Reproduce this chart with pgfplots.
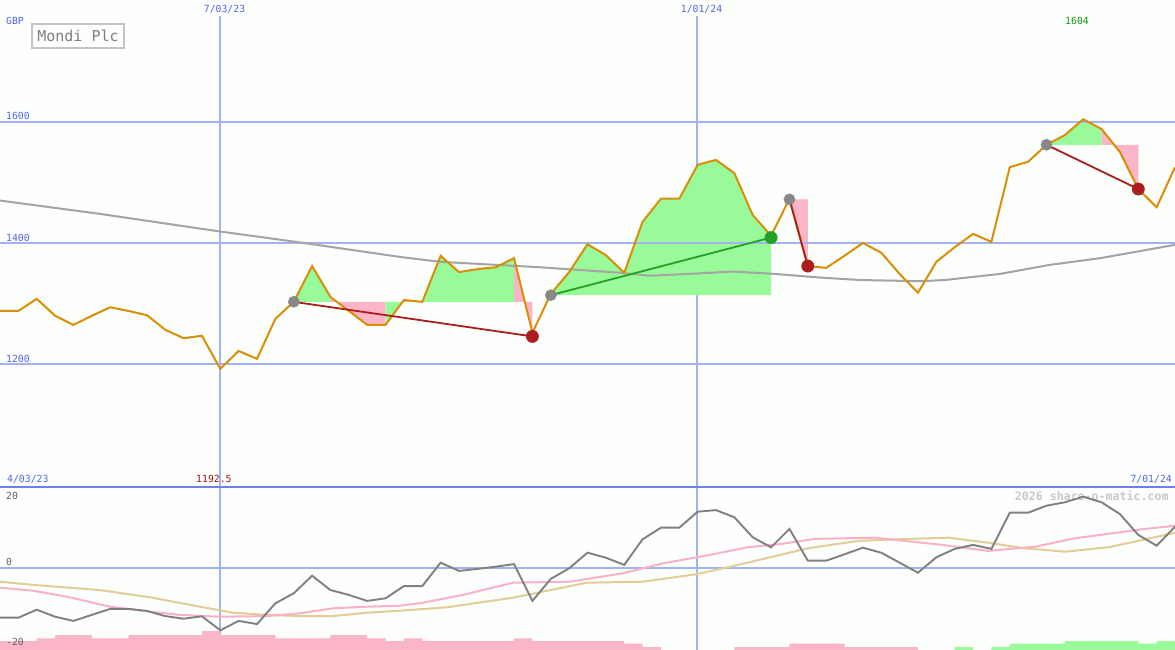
\documentclass[border=0pt]{standalone}
\usepackage{pgfplots}
\pgfplotsset{compat=1.18}
\usepackage{fontspec}
\newfontfamily\pxfont{DejaVu Sans Mono}

\definecolor{bgc}{RGB}{252,255,252}
\definecolor{gridblue}{RGB}{164,178,244}
\definecolor{sepblue}{RGB}{112,128,234}
\definecolor{labblue}{RGB}{84,100,240}
\definecolor{priceorange}{RGB}{218,142,8}
\definecolor{upgreen}{RGB}{152,250,152}
\definecolor{dnpink}{RGB}{250,182,200}
\definecolor{magrey}{RGB}{164,164,164}
\definecolor{momgrey}{RGB}{128,128,128}
\definecolor{pinkline}{RGB}{250,176,198}
\definecolor{tanline}{RGB}{226,204,152}
\definecolor{dotgrey}{RGB}{136,136,136}
\definecolor{dotred}{RGB}{172,30,30}
\definecolor{dotgreen}{RGB}{36,160,36}
\definecolor{labred}{RGB}{160,24,24}
\definecolor{labgreen}{RGB}{20,150,20}
\definecolor{boxgrey}{RGB}{196,196,196}
\definecolor{titlegrey}{RGB}{128,128,128}
\definecolor{wmgrey}{RGB}{200,200,200}
\definecolor{numgrey}{RGB}{96,96,96}

\pgfplotsset{
  panel/.style={
    scale only axis, width=1175pt, anchor=south west,
    xmin=0, xmax=64,
    axis line style={draw=none},
    xtick=\empty, ytick=\empty,
  },
}
\newcommand{\sm}{\pxfont\fontsize{9.8}{10}\selectfont}

\begin{document}
\begin{tikzpicture}
\fill[bgc] (0pt,0pt) rectangle (1175pt,650pt);
\useasboundingbox (0pt,0pt) rectangle (1175pt,650pt);
% vertical date lines
\draw[gridblue, line width=1.8pt] (220pt,0pt) -- (220pt,634pt);
\draw[gridblue, line width=1.3pt] (697pt,0pt) -- (697pt,634pt);

% ---- price panel
\begin{axis}[panel, at={(0pt,163pt)}, height=487pt, ymin=997.7, ymax=1800.7]
% trade 1 shading
\addplot[fill=upgreen, draw=none] coordinates {(16,1303) (17,1362) (18,1311) (18,1303)} -- cycle;
\addplot[fill=dnpink, draw=none] coordinates {(18,1303) (18,1311) (19,1288) (20,1265) (21,1265) (21,1303)} -- cycle;
\addplot[fill=upgreen, draw=none] coordinates {(21,1303) (21,1265) (22,1306) (22,1303)} -- cycle;
\addplot[fill=dnpink, draw=none] coordinates {(22,1303) (22,1306) (23,1303)} -- cycle;
\addplot[fill=upgreen, draw=none] coordinates {(23,1303) (24,1379) (25,1352) (26,1357) (27,1360) (28,1375) (28,1303)} -- cycle;
\addplot[fill=dnpink, draw=none] coordinates {(28,1303) (28,1375) (29,1252) (29,1303)} -- cycle;
% trade 2
\addplot[fill=upgreen, draw=none] coordinates {(30,1314) (30,1316) (31,1352) (32,1398) (33,1380) (34,1351) (35,1435) (36,1473) (37,1473) (38,1529) (39,1537) (40,1515) (41,1446) (42,1412) (42,1314)} -- cycle;
% trade 3
\addplot[fill=dnpink, draw=none] coordinates {(43,1472) (43,1473) (44,1362) (44,1472)} -- cycle;
% trade 4
\addplot[fill=upgreen, draw=none] coordinates {(57,1562) (58,1578) (59,1604) (60,1588) (60,1562)} -- cycle;
\addplot[fill=dnpink, draw=none] coordinates {(60,1562) (60,1588) (61,1550) (62,1489) (62,1562)} -- cycle;

\draw[gridblue, line width=1.8pt] (axis cs:0,1600) -- (axis cs:64,1600);
\draw[gridblue, line width=1.8pt] (axis cs:0,1400) -- (axis cs:64,1400);
\draw[gridblue, line width=1.8pt] (axis cs:0,1200) -- (axis cs:64,1200);

% long moving average
\addplot[magrey, line width=2pt] coordinates {
(0,1470) (5.45,1448) (11.98,1419) (16.34,1401) (21.79,1377) (23.97,1369)
(29.41,1360) (33.77,1351) (35.4,1346) (38.13,1350) (39.93,1353) (42.21,1349)
(44.67,1343) (46.84,1339) (50.11,1337) (51.47,1339) (54.47,1349) (57.19,1364)
(59.92,1375) (64,1397)};

% price
\addplot[priceorange, line width=2pt] coordinates {
(0,1288) (1,1288) (2,1308) (3,1280) (4,1265) (5,1280) (6,1294) (7,1288)
(8,1281) (9,1257) (10,1243) (11,1247) (12,1192.5) (13,1222) (14,1209) (15,1275)
(16,1303) (17,1362) (18,1311) (19,1288) (20,1265) (21,1265) (22,1306) (23,1303)
(24,1379) (25,1352) (26,1357) (27,1360) (28,1375) (29,1252) (30,1316) (31,1352)
(32,1398) (33,1380) (34,1351) (35,1435) (36,1473) (37,1473) (38,1529) (39,1537)
(40,1515) (41,1446) (42,1412) (43,1473) (44,1362) (45,1359) (46,1379) (47,1400)
(48,1384) (49,1349) (50,1318) (51,1369) (52,1393) (53,1415) (54,1402) (55,1525)
(56,1534) (57,1562) (58,1578) (59,1604) (60,1588) (61,1550) (62,1489) (63,1459)
(64,1525)};

% trades
\addplot[dotred, line width=1.8pt] coordinates {(16,1303) (29,1246)};
\addplot[dotgreen, line width=1.8pt] coordinates {(30,1314) (42,1409)};
\addplot[dotred, line width=1.8pt] coordinates {(43,1472) (44,1362)};
\addplot[dotred, line width=1.8pt] coordinates {(57,1562) (62,1489)};
\addplot[only marks, mark=*, mark size=5.6pt, dotgrey] coordinates {(16,1303) (30,1314) (43,1472) (57,1562)};
\addplot[only marks, mark=*, mark size=6.2pt, dotred] coordinates {(29,1246) (44,1362) (62,1489)};
\addplot[only marks, mark=*, mark size=6.2pt, dotgreen] coordinates {(42,1409)};
\end{axis}

% ---- indicator panel
\begin{axis}[panel, at={(0pt,0pt)}, height=163pt, ymin=-20.575, ymax=20.175]
\node[anchor=east, text=wmgrey, font=\pxfont\bfseries\fontsize{11.6}{12}\selectfont] at (axis cs:63.84,17.9) {2026 share-o-matic.com};
\addplot[const plot, fill=dnpink, draw=none] coordinates {
(0,-21) (0,-18.33) (2,-17.65) (3,-16.83) (5,-17.65) (7,-16.83) (11,-15.83) (12,-16.83)
(15,-17.65) (18,-16.83) (20,-17.65) (21,-18.33) (22,-17.65) (23,-18.33) (28,-17.65)
(29,-18.33) (34,-19) (35,-19.83) (36,-21) (40,-19.83) (43,-19) (46,-19.83) (50,-21)} -- cycle;
\addplot[const plot, fill=upgreen, draw=none] coordinates {
(52,-21) (52,-19.83) (53,-21) (54,-19.83) (55,-19) (58,-18.33) (62,-19) (63,-18.33)
(64,-18.33) (64,-21)} -- cycle;
\draw[gridblue, line width=1.8pt] (axis cs:0,0) -- (axis cs:64,0);

\addplot[tanline, line width=2pt] coordinates {
(0,-3.5) (1.8,-4.3) (5.45,-5.6) (8.17,-7.4) (10.89,-9.75) (12.69,-11.25) (14.54,-11.8)
(16.34,-12.1) (18.14,-12.1) (19.99,-11.25) (21.79,-10.75) (24.35,-9.9) (27.94,-7.5)
(31.97,-3.75) (35.02,-3.5) (37.96,-1.6) (39.93,0.4) (42.49,3.2) (44.01,4.85) (46.73,6.7)
(49.46,7.2) (51.64,7.5) (53.82,6.25) (55.83,4.85) (58.01,4) (60.35,5.1) (62.2,6.9) (64,8.75)};
\addplot[pinkline, line width=2pt] coordinates {
(0,-5) (1.8,-5.75) (3.65,-7.25) (5.99,-9.75) (8.17,-11) (9.8,-11.8) (11.98,-12.25)
(14.54,-12.1) (16.34,-11.4) (18.14,-10.15) (19.99,-9.75) (21.79,-9.5) (23.04,-8.75)
(25.22,-6.8) (27.94,-3.75) (31.05,-3.5) (33.93,-1.4) (36.11,1.1) (38.84,3.35) (40.69,5.1)
(42.49,5.9) (44.39,7.2) (47.66,7.5) (51.31,5.7) (53.82,4.2) (56.38,5.25) (58.55,7.35)
(62.2,9.6) (64,10.5)};
\addplot[momgrey, line width=1.9pt] coordinates {
(0,-12.5) (1,-12.5) (2,-10.5) (3,-12.25) (4,-13.3) (5,-11.8) (6,-10.3) (7,-10.3)
(8,-10.8) (9,-12.1) (10,-12.75) (11,-12.15) (12,-15.65) (13,-13.3) (14,-14.1) (15,-8.9)
(16,-6.4) (17,-2.0) (18,-5.6) (19,-6.8) (20,-8.3) (21,-7.65) (22,-4.6) (23,-4.6)
(24,1.25) (25,-0.8) (26,-0.3) (27,0.25) (28,0.9) (29,-8.3) (30,-2.8) (31,-0.15)
(32,3.75) (33,2.5) (34,0.7) (35,7.1) (36,10) (37,10) (38,14) (39,14.4)
(40,12.6) (41,7.6) (42,5.1) (43,9.7) (44,1.75) (45,1.75) (46,3.35) (47,5)
(48,3.75) (49,1.25) (50,-1.25) (51,2.6) (52,4.7) (53,5.7) (54,4.7) (55,13.75)
(56,13.75) (57,15.5) (58,16.35) (59,17.75) (60,16.35) (61,13.4) (62,8.2) (63,5.5)
(64,10.25)};
\end{axis}

% separator between panels
\draw[sepblue, line width=2pt] (0pt,163pt) -- (1175pt,163pt);

% labels
\node[anchor=west, inner sep=0pt, text=labblue, font=\sm] at (6pt,629pt) {GBP};
\node[draw=boxgrey, line width=1.8pt, text=titlegrey, font=\pxfont\fontsize{15}{15}\selectfont,
      minimum width=92pt, minimum height=24pt, inner sep=0pt] at (78pt,614pt) {Mondi Plc};
\node[inner sep=0pt, text=labblue, font=\sm] at (224.5pt,641pt) {7/03/23};
\node[inner sep=0pt, text=labblue, font=\sm] at (701.5pt,641pt) {1/01/24};
\node[inner sep=0pt, text=labgreen, font=\sm] at (1077pt,629pt) {1604};
\node[anchor=west, inner sep=0pt, text=labblue, font=\sm] at (6pt,534pt) {1600};
\node[anchor=west, inner sep=0pt, text=labblue, font=\sm] at (6pt,412pt) {1400};
\node[anchor=west, inner sep=0pt, text=labblue, font=\sm] at (6pt,291pt) {1200};
\node[anchor=west, inner sep=0pt, text=labblue, font=\sm] at (7pt,171pt) {4/03/23};
\node[anchor=west, inner sep=0pt, text=labred, font=\sm] at (196pt,171pt) {1192.5};
\node[anchor=east, inner sep=0pt, text=labblue, font=\sm] at (1172pt,171pt) {7/01/24};
\node[anchor=west, inner sep=0pt, text=numgrey, font=\sm] at (6pt,154pt) {20};
\node[anchor=west, inner sep=0pt, text=numgrey, font=\sm] at (6pt,88pt) {0};
\node[anchor=west, inner sep=0pt, text=numgrey, font=\sm] at (6pt,8pt) {-20};
\end{tikzpicture}
\end{document}
